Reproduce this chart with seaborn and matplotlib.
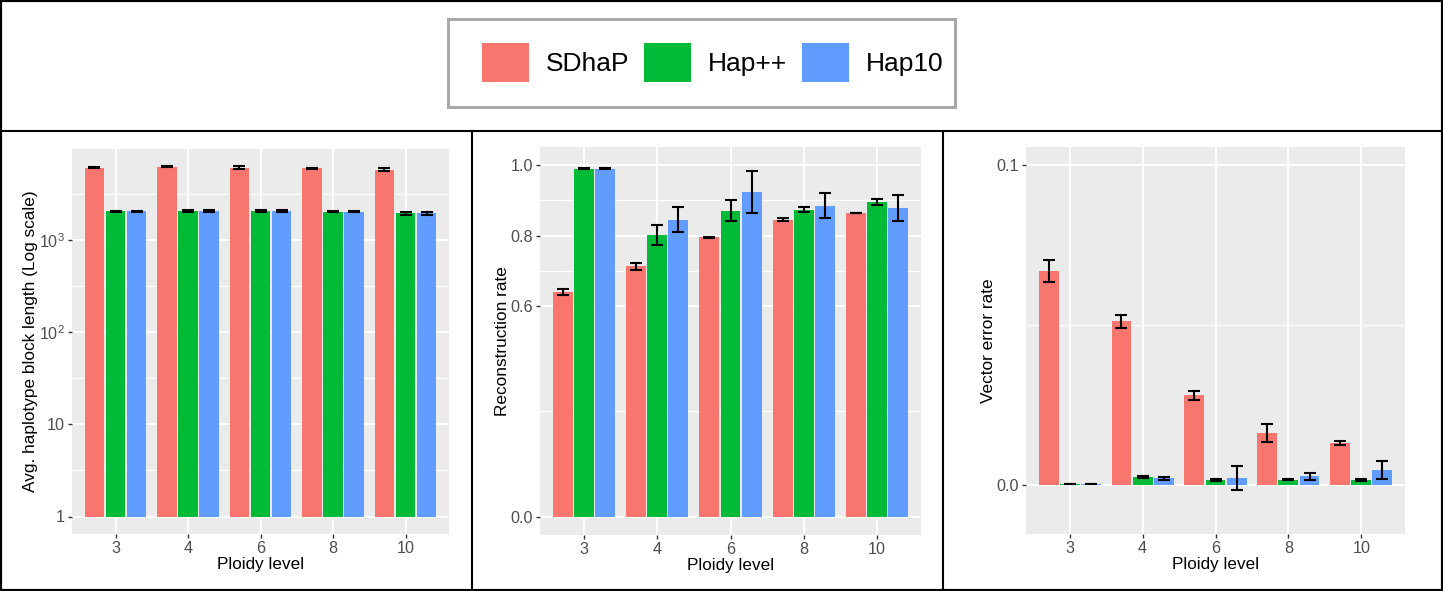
import pandas as pd
import matplotlib
matplotlib.use('Agg')
import matplotlib.pyplot as plt
import seaborn as sns
from matplotlib.patches import Rectangle, Patch
from matplotlib.lines import Line2D
from matplotlib.ticker import FixedLocator, FixedFormatter

plt.rcParams['font.family'] = ['Liberation Sans', 'DejaVu Sans']

# 数据
ploidy = ['3', '4', '6', '8', '10']
methods = ['SDhaP', 'Hap++', 'Hap10']
colors = ['#F8766D', '#00BA38', '#619CFF']

# 平均单倍型块长度
block_sdhap = [6100, 6250, 6150, 6050, 5850]
block_happp = [2050, 2080, 2070, 2040, 1970]
block_hap10 = [2050, 2080, 2070, 2045, 1960]
block_sdhap_err = [60, 90, 250, 80, 260]
block_happp_err = [30, 50, 70, 40, 70]
block_hap10_err = [30, 50, 70, 40, 80]

# 重建率
recon_sdhap = [0.640, 0.712, 0.795, 0.845, 0.864]
recon_happp = [0.990, 0.801, 0.870, 0.874, 0.895]
recon_hap10 = [0.990, 0.845, 0.923, 0.885, 0.878]
recon_sdhap_err = [0.009, 0.010, 0.002, 0.004, 0.001]
recon_happp_err = [0.002, 0.029, 0.030, 0.006, 0.008]
recon_hap10_err = [0.002, 0.035, 0.060, 0.036, 0.037]

# 向量错误率
vec_sdhap = [0.0667, 0.0511, 0.0279, 0.0161, 0.0130]
vec_happp = [0.0002, 0.0024, 0.0015, 0.0016, 0.0015]
vec_hap10 = [0.0002, 0.0020, 0.0021, 0.0026, 0.0046]
vec_sdhap_err = [0.0035, 0.0020, 0.0015, 0.0028, 0.0006]
vec_happp_err = [0.0001, 0.0003, 0.0002, 0.0002, 0.0002]
vec_hap10_err = [0.0001, 0.0005, 0.0037, 0.0010, 0.0027]


def make_df(series):
    rows = []
    for m, vals in zip(methods, series):
        for p, v in zip(ploidy, vals):
            rows.append((p, m, v))
    return pd.DataFrame(rows, columns=['Ploidy', 'Method', 'value'])


def draw_panel(ax, series, errors, ylabel, bottom=0):
    df = make_df(series)
    sns.barplot(data=df, x='Ploidy', y='value', hue='Method', order=ploidy,
                hue_order=methods, palette=colors, saturation=1, errorbar=None,
                width=0.87, gap=0.06, legend=False, ax=ax, bottom=bottom)
    # 误差线
    for cont, vals, errs in zip(ax.containers, series, errors):
        xs = [b.get_x() + b.get_width() / 2 for b in cont]
        ax.errorbar(xs, vals, yerr=errs, fmt='none', ecolor='black',
                    elinewidth=1.5, capsize=4.3, capthick=1.5, zorder=5)
    ax.set_facecolor('#EBEBEB')
    ax.set_axisbelow(True)
    ax.grid(True, which='major', color='white', lw=1.5)
    ax.grid(True, which='minor', axis='y', color='white', lw=1.0)
    for s in ax.spines.values():
        s.set_visible(False)
    ax.tick_params(which='major', colors='#333333', labelcolor='#4D4D4D',
                   labelsize=11.6, length=3, width=1, pad=2)
    ax.tick_params(which='minor', length=0)
    ax.set_xlim(-0.6, 4.6)
    ax.set_xlabel('Ploidy level', fontsize=12.3, labelpad=1)
    ax.set_ylabel(ylabel, fontsize=12.4, labelpad=0.5)


W, H = 1443, 591
fig = plt.figure(figsize=(W / 100, H / 100), dpi=100)


def px_axes(x0, y0, x1, y1):
    return fig.add_axes([x0 / W, (H - y1) / H, (x1 - x0) / W, (y1 - y0) / H])


ax1 = px_axes(72, 149, 449, 534)
ax2 = px_axes(540, 147, 921, 535)
ax3 = px_axes(1026, 147, 1405, 534)

# 左图：对数刻度
draw_panel(ax1, [block_sdhap, block_happp, block_hap10],
           [block_sdhap_err, block_happp_err, block_hap10_err],
           'Avg. haplotype block length (Log scale)', bottom=1)
ax1.set_yscale('log')
ax1.set_ylim(10 ** -0.19, 10 ** 3.99)
ax1.yaxis.set_major_locator(FixedLocator([1, 10, 100, 1000]))
ax1.yaxis.set_major_formatter(FixedFormatter(['1', '10', r'$\mathregular{10^2}$', r'$\mathregular{10^3}$']))
ax1.yaxis.set_minor_locator(FixedLocator([10 ** 0.5, 10 ** 1.5, 10 ** 2.5, 10 ** 3.5]))
ax1.yaxis.set_minor_formatter(FixedFormatter(['', '', '', '']))
ax1.tick_params(which='minor', length=0)

# 中图
draw_panel(ax2, [recon_sdhap, recon_happp, recon_hap10],
           [recon_sdhap_err, recon_happp_err, recon_hap10_err],
           'Reconstruction rate')
ax2.set_ylim(-0.0525, 1.052)
ax2.yaxis.set_major_locator(FixedLocator([0.0, 0.6, 0.8, 1.0]))
ax2.yaxis.set_major_formatter(FixedFormatter(['0.0', '0.6', '0.8', '1.0']))
ax2.yaxis.set_minor_locator(FixedLocator([0.3, 0.7, 0.9]))

# 右图
draw_panel(ax3, [vec_sdhap, vec_happp, vec_hap10],
           [vec_sdhap_err, vec_happp_err, vec_hap10_err],
           'Vector error rate')
ax3.set_ylim(-0.0154, 0.1055)
ax3.yaxis.set_major_locator(FixedLocator([0.0, 0.1]))
ax3.yaxis.set_major_formatter(FixedFormatter(['0.0', '0.1']))
ax3.yaxis.set_minor_locator(FixedLocator([0.05]))

# 边框
fig.add_artist(Rectangle((0, 0), 1, 1, transform=fig.transFigure, fill=False,
                         edgecolor='black', lw=3))
fig.add_artist(Line2D([0, 1], [1 - 131 / H] * 2, transform=fig.transFigure,
                      color='black', lw=1.5))
for xv in [471.7, 943]:
    fig.add_artist(Line2D([xv / W] * 2, [0, 1 - 131 / H], transform=fig.transFigure,
                          color='black', lw=1.5))

# 图例
fig.add_artist(Rectangle((448 / W, 1 - 107 / H), 507 / W, 88 / H,
                         transform=fig.transFigure, fill=False,
                         edgecolor='#A8A8A8', lw=2.2))
handles = [Patch(facecolor=c, edgecolor='none') for c in colors]
fig.legend(handles, methods, loc='center', bbox_to_anchor=(713 / W, 1 - 62.5 / H),
           ncol=3, frameon=False, fontsize=19, handlelength=1.78,
           handleheight=1.86, handletextpad=0.64, columnspacing=0.57)

fig.savefig('out.png', dpi=100)
